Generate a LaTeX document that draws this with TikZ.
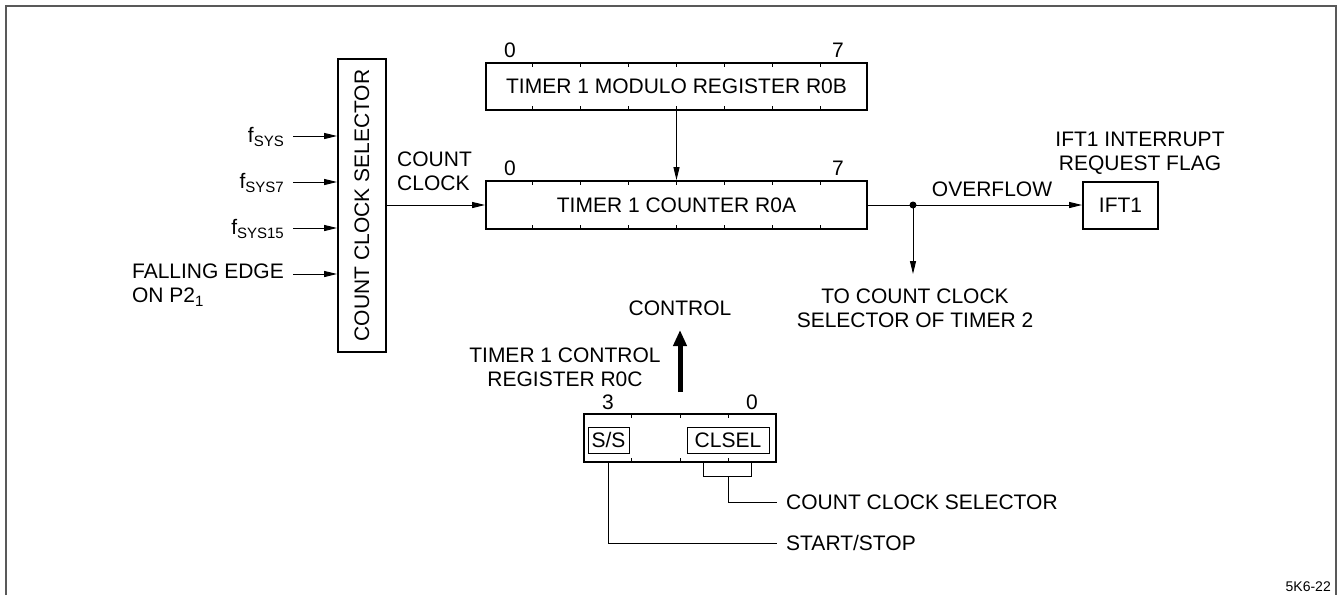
\documentclass[tikz,border=0pt]{standalone}
\usepackage{fontspec}
\setmainfont{Liberation Sans}
\usetikzlibrary{arrows.meta,calc}
\newcommand{\sbs}[1]{\raisebox{-0.4ex}{\fontsize{15}{15}\selectfont #1}}
\tikzset{
  lbl/.style={inner sep=0pt, font=\fontsize{21}{24}\selectfont},
  regbox/.style={draw, line width=1.8pt, inner sep=0pt, font=\fontsize{21}{24}\selectfont},
  inbox/.style={draw, line width=0.9pt, inner sep=0pt, font=\fontsize{21}{24}\selectfont},
  wire/.style={line width=1pt},
  arr/.style={line width=1pt, -{Triangle[length=13pt,width=6pt]}},
  bigarr/.style={line width=5pt, -{Triangle[length=16pt,width=13pt]}},
  tick/.style={line width=1pt}
}
\begin{document}
\begin{tikzpicture}[x=1pt,y=-1pt]
\useasboundingbox (0,0) rectangle (1340,595);
% frame
\draw[black!65, line width=1.5pt] (6,595) -- (6,6) -- (1336,6) -- (1336,595);

% count clock selector
\node[regbox, rotate=90, minimum width=293pt, minimum height=48pt] (ccs) at (362,205.5) {COUNT CLOCK SELECTOR};

% modulo register
\node[regbox, minimum width=381pt, minimum height=47pt] (mod) at (676.5,86.5) {TIMER 1 MODULO REGISTER R0B};
\node[regbox, minimum width=381pt, minimum height=48pt] (cnt) at (676.5,205) {TIMER 1 COUNTER R0A};
\foreach \b in {mod,cnt}{
  \foreach \i in {1,...,7}{
    \draw[tick] ($(\b.north west)!\i/8!(\b.north east)$) -- ++(0,5);
    \draw[tick] ($(\b.south west)!\i/8!(\b.south east)$) -- ++(0,-5);
  }
}
\node[lbl] (m0) at (510,50) {0};
\node[lbl] (m7) at (838,50) {7};
\node[lbl] (c0) at (510,168) {0};
\node[lbl] (c7) at (838,168) {7};

% IFT1
\node[regbox, minimum width=75pt, minimum height=47pt] (ift) at (1120.5,205.5) {IFT1};
\node[lbl, align=center] (iftl) at (1140,153) {IFT1 INTERRUPT\\REQUEST FLAG};

% inputs
\coordinate (i1) at (293,136);
\coordinate (i2) at (293,182);
\coordinate (i3) at (293,228);
\coordinate (i4) at (293,274);
\foreach \c in {i1,i2,i3,i4}{\draw[arr] (\c) -- (\c -| ccs.north);}
\node[lbl, anchor=east] (l1) at (284,137) {f\sbs{SYS}};
\node[lbl, anchor=east] (l2) at (284,183) {f\sbs{SYS7}};
\node[lbl, anchor=east] (l3) at (284,229) {f\sbs{SYS15}};
\node[lbl, anchor=east, align=left] (l4) at (284,285) {FALLING EDGE\\ON P2\sbs{1}};

% count clock
\draw[arr] (cnt.west -| ccs.south) -- (cnt.west);
\node[lbl, anchor=west, align=left] (ccl) at (397,171) {COUNT\\CLOCK};
\draw[arr] (mod.south) -- (cnt.north);

% overflow
\coordinate (dot) at (913,205);
\coordinate (toccs) at (913,274);
\draw[wire] (cnt.east) -- (dot);
\draw[arr] (dot) -- (ift.west |- dot);
\draw[arr] (dot) -- (toccs);
\fill (dot) circle (3.5pt);
\node[lbl] (ovf) at (992,189) {OVERFLOW};
\node[lbl, align=center] (tol) at (915,308) {TO COUNT CLOCK\\SELECTOR OF TIMER 2};

% control register
\node[regbox, minimum width=192pt, minimum height=48pt] (cr) at (680,438) {};
\foreach \i in {1,2,3}{
  \draw[tick] ($(cr.north west)!\i/4!(cr.north east)$) -- ++(0,5);
  \draw[tick] ($(cr.south west)!\i/4!(cr.south east)$) -- ++(0,-5);
}
\node[inbox, minimum width=41pt, minimum height=26pt] (ss) at (608.5,440) {S/S};
\node[inbox, minimum width=82pt, minimum height=26pt] (cls) at (728,440) {CLSEL};
\node[lbl] (r3) at (608,402) {3};
\node[lbl] (r0) at (752,402) {0};
\node[lbl, align=center] (crl) at (565,367) {TIMER 1 CONTROL\\REGISTER R0C};
\coordinate (cb) at (680,392);
\coordinate (ct) at (680,330);
\draw[bigarr] (cb) -- (ct);
\node[lbl] (ctl) at (680,308) {CONTROL};

% bracket and lines
\coordinate (bl) at (703,462);
\coordinate (br) at (751,462);
\draw[wire] (bl) -- (703,476) -- (751,476) -- (br);
\coordinate (bm) at (728,476);
\coordinate (ccsend) at (777,502);
\draw[wire] (bm) -- (bm |- ccsend) -- (ccsend);
\node[lbl, anchor=west] (ccsl) at (786,502) {COUNT CLOCK SELECTOR};
\coordinate (ssend) at (777,543);
\draw[wire] (608,462) -- (608,543) -- (ssend);
\node[lbl, anchor=west] (ssl) at (786,543) {START/STOP};

\node[inner sep=0pt, font=\fontsize{14}{16}\selectfont, anchor=east] (code) at (1331,587) {5K6-22};
\end{tikzpicture}
\end{document}
